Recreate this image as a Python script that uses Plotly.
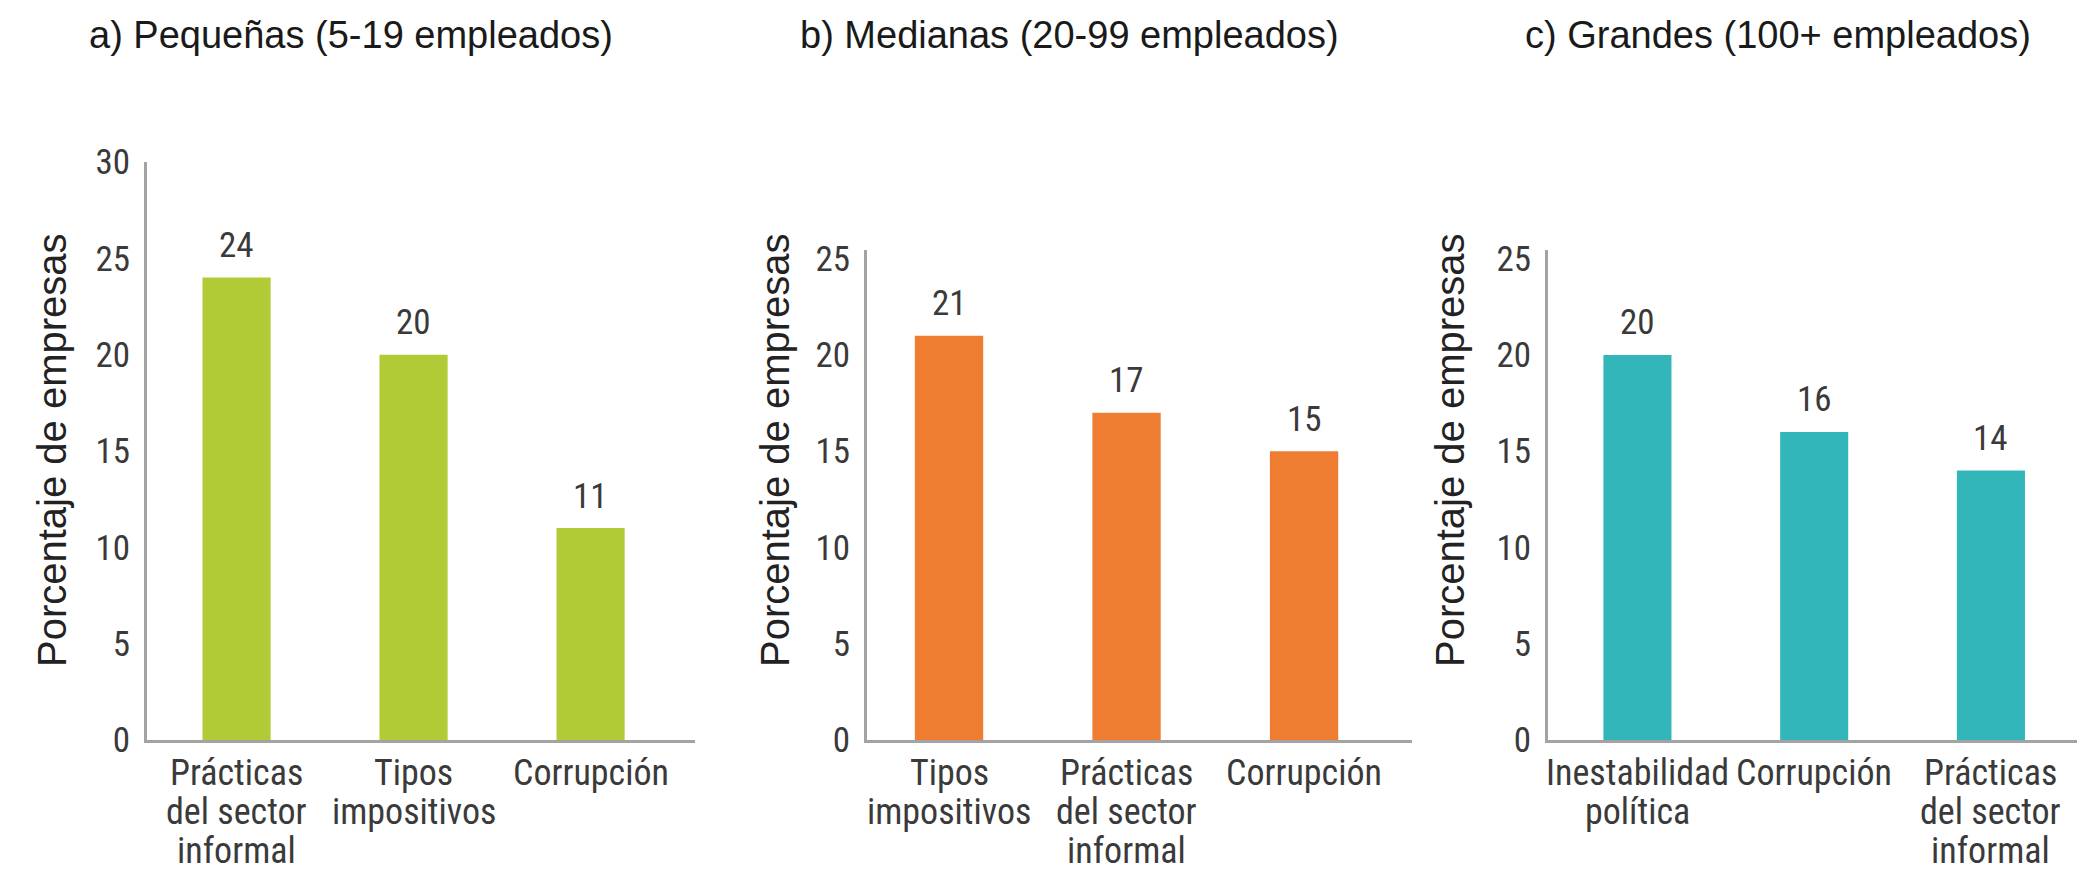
import plotly.graph_objects as go

# ---- data ----
titles = ["a) Pequeñas (5-19 empleados)", "b) Medianas (20-99 empleados)", "c) Grandes (100+ empleados)"]
cats_a = ["Prácticas<br>del sector<br>informal", "Tipos<br>impositivos", "Corrupción"]
vals_a = [24, 20, 11]
cats_b = ["Tipos<br>impositivos", "Prácticas<br>del sector<br>informal", "Corrupción"]
vals_b = [21, 17, 15]
cats_c = ["Inestabilidad<br>política", "Corrupción", "Prácticas<br>del sector<br>informal"]
vals_c = [20, 16, 14]
ytitle = "Porcentaje de empresas"
yticks_a = [0, 5, 10, 15, 20, 25, 30]
yticks_bc = [0, 5, 10, 15, 20, 25]

colors = ["#b1cb36", "#ee7d31", "#33b6ba"]

W, H = 2077, 874
NARROW = "Roboto Condensed, DejaVu Sans Condensed, Liberation Sans Narrow, Arial Narrow, sans-serif"
SANS = "Liberation Sans, Arial, sans-serif"
TICKC = "#3a3a3a"
AXC = "#a3a3a3"

panels = [
    dict(cats=cats_a, vals=vals_a, xdom=[147 / W, 695 / W], xr=[-0.506, 2.590],
         ydom=[(H - 740) / H, (H - 162) / H], yr=[0, 30], yt=yticks_a,
         tx=351, ytx=52),
    dict(cats=cats_b, vals=vals_b, xdom=[867 / W, 1412 / W], xr=[-0.462, 2.608],
         ydom=[(H - 740) / H, (H - 250) / H], yr=[0, 25.45], yt=yticks_bc,
         tx=1069, ytx=775),
    dict(cats=cats_c, vals=vals_c, xdom=[1548 / W, 1.0], xr=[-0.506, 2.487],
         ydom=[(H - 740) / H, (H - 250) / H], yr=[0, 25.45], yt=yticks_bc,
         tx=1778, ytx=1450),
]

fig = go.Figure()
annotations = []
layout = {}
for i, p in enumerate(panels):
    sfx = "" if i == 0 else str(i + 1)
    xa, ya = "x" + sfx, "y" + sfx
    fig.add_trace(go.Bar(
        x=p["cats"], y=p["vals"], xaxis=xa, yaxis=ya,
        marker=dict(color=colors[i], line=dict(width=0)),
        width=0.385, showlegend=False, hoverinfo="y",
    ))
    layout["xaxis" + sfx] = dict(
        domain=p["xdom"], anchor=ya, type="category", range=p["xr"],
        showline=True, linecolor=AXC, linewidth=3, showgrid=False, zeroline=False,
        ticks="", showticklabels=False, fixedrange=True, automargin=False,
    )
    layout["yaxis" + sfx] = dict(
        domain=p["ydom"], anchor=xa, range=p["yr"], tickvals=p["yt"],
        showline=True, linecolor=AXC, linewidth=3, showgrid=False, zeroline=False,
        ticks="", tickfont=dict(family=NARROW, size=35, color=TICKC),
        ticklabelstandoff=7, fixedrange=True, automargin=False,
    )
    for c, v in zip(p["cats"], p["vals"]):
        # value label above bar
        annotations.append(dict(
            x=c, y=v, xref=xa, yref=ya, text=str(v), showarrow=False,
            xanchor="center", yanchor="middle", yshift=32,
            font=dict(family=NARROW, size=35, color=TICKC),
        ))
        # category label, one line at a time (tight line spacing)
        for j, line in enumerate(c.split("<br>")):
            annotations.append(dict(
                x=c, y=0, xref=xa, yref=ya, text=line, showarrow=False,
                xanchor="center", yanchor="middle", yshift=-33 - 39 * j,
                font=dict(family=NARROW, size=36, color=TICKC),
            ))
    annotations.append(dict(
        x=p["tx"] / W, y=(H - 35) / H, xref="paper", yref="paper",
        text=titles[i], showarrow=False, xanchor="center", yanchor="middle",
        font=dict(family=SANS, size=38, color="#1a1a1a"),
    ))
    annotations.append(dict(
        x=p["ytx"] / W, y=(H - 450) / H, xref="paper", yref="paper",
        text=ytitle, textangle=-90, showarrow=False,
        xanchor="center", yanchor="middle",
        font=dict(family=SANS, size=40, color="#222222"),
    ))

fig.update_layout(
    width=W, height=H,
    margin=dict(l=0, r=0, t=0, b=0, pad=0, autoexpand=False),
    paper_bgcolor="white", plot_bgcolor="white",
    annotations=annotations,
    **layout,
)

fig.write_html(
    "out.html",
    config={"displayModeBar": False},
    post_script="document.body.style.margin='0';document.body.style.overflow='hidden';",
)
